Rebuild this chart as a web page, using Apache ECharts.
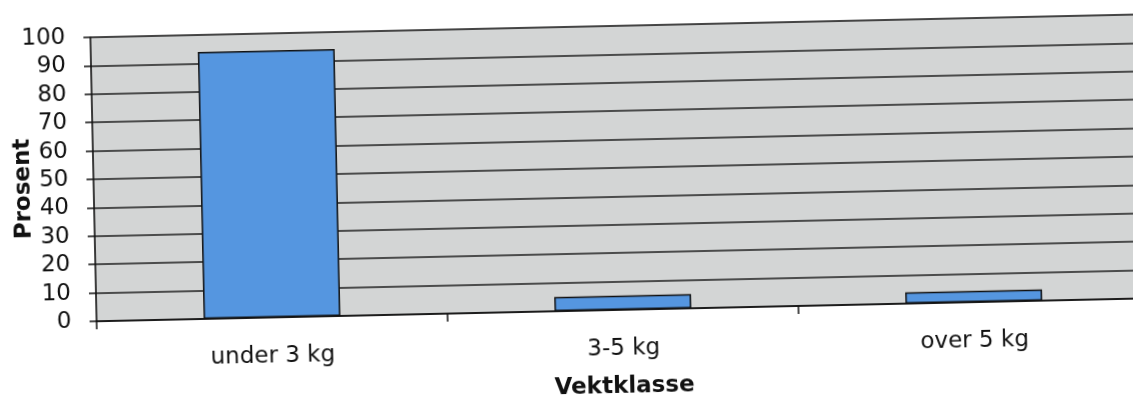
<!DOCTYPE html>
<html>
<head>
<meta charset="utf-8">
<script src="https://cdn.jsdelivr.net/npm/echarts@6/dist/echarts.min.js"></script>
<style>
    html, body { margin: 0; padding: 0; background: #fff; overflow: hidden; }
    /* the scanned chart is a little tilted, so the whole chart is turned slightly */
    #chart {
        width: 1180px;
        height: 397px;
        transform-origin: 566px 198px;
        transform: rotate(-1.25deg);
    }
</style>
</head>
<body>
<div id="chart"></div>
<script>
// vektklasser og andel (prosent)
const categories = ['under 3 kg', '3-5 kg', 'over 5 kg'];
const prosent = [94, 5, 4];
const yTicks = [0, 10, 20, 30, 40, 50, 60, 70, 80, 90, 100];

const font = 'DejaVu Sans';
const chart = echarts.init(document.getElementById('chart'));

const option = {
    animation: false,
    textStyle: { fontFamily: font },
    grid: {
        left: 94,
        right: 33,
        top: 27,
        bottom: 86,
        outerBoundsMode: 'none',
        containLabel: false,
        show: true,
        backgroundColor: '#d3d5d5',
        borderColor: '#8a8a8a',
        borderWidth: 1
    },
    xAxis: {
        type: 'category',
        data: categories,
        name: 'Vektklasse',
        nameLocation: 'middle',
        nameGap: 66,
        nameTextStyle: { fontFamily: font, fontSize: 23, fontWeight: 'bold', color: '#111' },
        axisLine: { lineStyle: { color: '#111', width: 1.5 } },
        axisTick: { show: true, length: 8, lineStyle: { color: '#111', width: 1.5 } },
        axisLabel: { fontFamily: font, fontSize: 23, color: '#111', margin: 28 }
    },
    yAxis: {
        type: 'value',
        min: yTicks[0],
        max: yTicks[yTicks.length - 1],
        interval: 10,
        name: 'Prosent',
        nameLocation: 'middle',
        nameRotate: 90,
        nameGap: 58,
        nameMoveOverlap: false,
        nameTextStyle: {
            fontFamily: font, fontSize: 23, fontWeight: 'bold', color: '#111',
            padding: [0, 16, 0, 0]
        },
        axisLine: { show: true, lineStyle: { color: '#111', width: 1.5 } },
        axisTick: { show: true, length: 7, lineStyle: { color: '#111', width: 1.5 } },
        axisLabel: { fontFamily: font, fontSize: 23, color: '#111', margin: 25 },
        splitLine: { show: true, lineStyle: { color: '#1e1e1e', width: 1.5 } }
    },
    series: [{
        type: 'bar',
        data: prosent,
        barWidth: '39%',
        itemStyle: {
            color: '#5596e0',
            borderColor: '#111',
            borderWidth: 1.5
        }
    }]
};

chart.setOption(option);
</script>
</body>
</html>
